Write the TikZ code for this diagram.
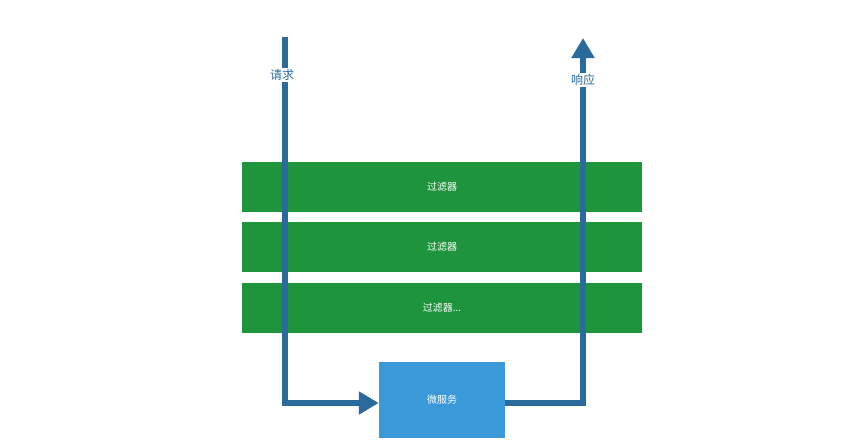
\documentclass[tikz,border=0pt]{standalone}
\usepackage{fontspec}
\newfontfamily\cjk{Noto Sans CJK SC}
\usetikzlibrary{arrows.meta,positioning}
\definecolor{filtergreen}{HTML}{1E943C}
\definecolor{svcblue}{HTML}{3A99D8}
\definecolor{flowblue}{HTML}{2A6B9C}
\tikzset{
  filterbar/.style={fill=filtergreen, minimum width=400pt, minimum height=50pt, inner sep=0pt, text=white, font=\cjk\fontsize{10}{12}\selectfont},
  servicebox/.style={fill=svcblue, minimum width=126pt, minimum height=76pt, inner sep=0pt, text=white, font=\cjk\fontsize{10}{12}\selectfont},
  flow/.style={draw=flowblue, line width=6pt},
  flowlabel/.style={fill=white, text=flowblue, inner sep=1pt, font=\cjk\fontsize{12}{14}\selectfont}
}
\begin{document}
\begin{tikzpicture}[x=1pt,y=-1pt]
		\useasboundingbox (0,0) rectangle (860,445);

		% filters
		\node[filterbar] (filterA) at (442,187) {过滤器};
		\node[filterbar] (filterB) at (442,247) {过滤器};
		\node[filterbar] (filterC) at (442,308) {过滤器...};

		% service
		\node[servicebox] (service) at (442,400) {微服务};

		% request path
		\coordinate (reqtop) at (285,37);
		\coordinate (reqcorner) at (285,403);
		\draw[flow, -{Triangle[length=20pt,width=22pt]}] (reqtop) -- (reqcorner) -- (service.west |- reqcorner);

		% response path
		\coordinate (respcorner) at (583,403);
		\coordinate (resptop) at (583,38);
		\draw[flow, -{Triangle[length=20pt,width=22pt]}] (service.east |- respcorner) -- (respcorner) -- (resptop);

		% labels
		\node[flowlabel] (reqlabel) at (282,75) {请求};
		\node[flowlabel] (resplabel) at (583,80) {响应};

	\end{tikzpicture}
\end{document}
